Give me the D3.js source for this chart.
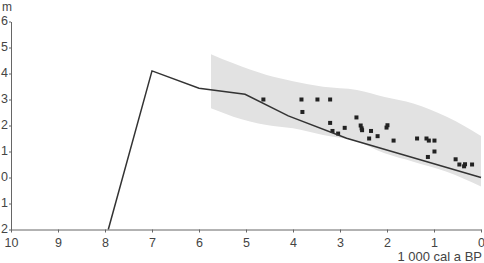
<!DOCTYPE html>
<html><head><meta charset="utf-8">
<script src="https://cdn.jsdelivr.net/npm/d3@7"></script>
<style>body{margin:0;background:#fff}svg{display:block}</style>
</head><body><svg id="c" width="484" height="263"></svg>
<script>
// x: thousand cal years BP, y: metres
const xTicks = [10,9,8,7,6,5,4,3,2,1,0];
const yTicks = [6,5,4,3,2,1,0,-1,-2];
const curveX = [7.93, 7.0, 6.0, 5.02, 4.1, 2.86, 0];
const curveY = [-2, 4.1, 3.43, 3.2, 2.37, 1.51, 0];
const bandX = [5.745, 5.27, 4.56, 4.0, 3.36, 2.64, 2.05, 1.44, 0.73, 0.0];
const bandTop = [4.74, 4.39, 3.94, 3.7, 3.49, 3.37, 3.1, 2.85, 2.34, 1.6];
const bandBottom = [2.66, 2.34, 2.02, 1.89, 1.63, 1.38, 0.93, 0.61, 0.22, -0.35];
const pointX = [4.63,3.82,3.80,3.48,3.21,3.21,3.16,3.04,2.90,2.65,2.56,2.54,2.53,2.38,2.34,2.20,2.01,1.99,1.86,1.36,1.16,1.11,0.99,0.99,1.13,0.54,0.46,0.36,0.34,0.19];
const pointY = [3.0,3.0,2.52,3.0,3.0,2.1,1.79,1.69,1.91,2.31,2.0,1.89,1.82,1.5,1.79,1.59,1.92,2.01,1.42,1.5,1.5,1.42,1.42,1.0,0.79,0.7,0.5,0.43,0.51,0.5];

const svg = d3.select("#c");
const x = d3.scaleLinear().domain([10,0]).range([11,481]);
const y = d3.scaleLinear().domain([-2,6]).range([229.5,21.5]);
const font = "Liberation Sans, Arial, sans-serif";

// band
const band = bandX.map((d,i)=>({x:d,t:bandTop[i],b:bandBottom[i]}));
svg.append("path").datum(band)
  .attr("d", d3.area().x(d=>x(d.x)).y0(d=>y(d.b)).y1(d=>y(d.t)).curve(d3.curveMonotoneX))
  .attr("fill","#e2e2e2");

// points
const pts = pointX.map((d,i)=>({x:d,y:pointY[i]}));
svg.append("g").selectAll("rect").data(pts).join("rect")
  .attr("x",d=>x(d.x)-2).attr("y",d=>y(d.y)-2).attr("width",4).attr("height",4)
  .attr("fill","#222");

// line
const line = curveX.map((d,i)=>({x:d,y:curveY[i]}));
svg.append("path").datum(line)
  .attr("d", d3.line().x(d=>x(d.x)).y(d=>y(d.y)))
  .attr("fill","none").attr("stroke","#333").attr("stroke-width",1.5);

// axes
const ya = svg.append("g").attr("transform","translate(11,0)")
  .call(d3.axisLeft(y).tickValues(yTicks).tickFormat(d=>String(Math.abs(d))).tickSizeInner(2).tickSizeOuter(0).tickPadding(1));
const xa = svg.append("g").attr("transform","translate(0,229.5)")
  .call(d3.axisBottom(x).tickValues(xTicks).tickFormat(d=>String(d)).tickSizeInner(3).tickSizeOuter(0).tickPadding(5.5));
[ya,xa].forEach(a=>{
  a.selectAll("path,line").attr("stroke","#666");
  a.selectAll("text").attr("fill","#444").style("font-family",font);
});
ya.selectAll("text").attr("dy","0.25em").style("font-size","12.5px");
xa.selectAll("text").style("font-size","12.5px");

svg.append("text").attr("x",2).attr("y",11).text("m")
  .attr("fill","#444").style("font-family",font).style("font-size","12px");
svg.append("text").attr("x",482).attr("y",261.3).attr("text-anchor","end").text("1 000 cal a BP")
  .attr("fill","#444").style("font-family",font).style("font-size","13px");
</script></body></html>
